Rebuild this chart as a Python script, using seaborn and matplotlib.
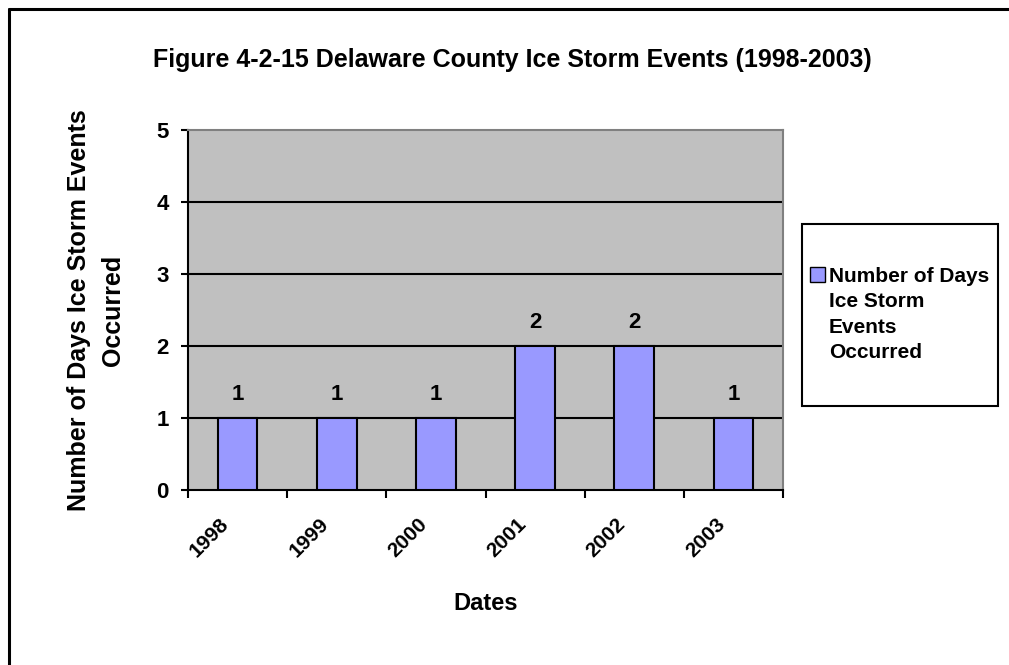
import matplotlib
matplotlib.use("Agg")
import matplotlib.pyplot as plt
import matplotlib.transforms as mtransforms
import seaborn as sns
import pandas as pd
from matplotlib.lines import Line2D
from matplotlib.patches import Rectangle, Patch

years = ["1998", "1999", "2000", "2001", "2002", "2003"]
days = [1, 1, 1, 2, 2, 1]
series_lines = ["Number of Days", "Ice Storm", "Events", "Occurred"]
title = "Figure 4-2-15 Delaware County Ice Storm Events (1998-2003)"
y_label = "Number of Days Ice Storm Events\nOccurred"
x_label = "Dates"

sns.set_style("white")
plt.rcParams['font.family'] = ['Liberation Sans', 'DejaVu Sans']
plt.rcParams['font.weight'] = 'bold'
plt.rcParams['text.color'] = 'black'
plt.rcParams['axes.labelcolor'] = 'black'
plt.rcParams['xtick.color'] = 'black'
plt.rcParams['ytick.color'] = 'black'

df = pd.DataFrame({"year": years, "days": days})

fig = plt.figure(figsize=(10.09, 6.65), dpi=100)
ax = fig.add_axes([188/1009, 1-490/665, (783-188)/1009, 360/665])
ax.set_facecolor("#C0C0C0")

sns.barplot(data=df, x="year", y="days", color="#9999FF", edgecolor="black",
            linewidth=1.5, width=0.4, saturation=1, ax=ax, zorder=3)

ax.set_ylim(0, 5)
ax.set_xlim(-0.5, len(years) - 0.5)
ax.set_yticks([0, 1, 2, 3, 4, 5])
for y in [1, 2, 3, 4]:
    ax.axhline(y, color="black", lw=1.5, zorder=2)

for c in ax.containers:
    ax.bar_label(c, labels=[str(v) for v in days], padding=9, fontsize=16,
                 fontweight="bold", color="black")

for s in ["left", "bottom"]:
    ax.spines[s].set_color("black")
    ax.spines[s].set_linewidth(1.5)
for s in ["top", "right"]:
    ax.spines[s].set_color("#808080")
    ax.spines[s].set_linewidth(1.5)

# x ticks at category boundaries, labels at category centres
ax.set_xticks([i - 0.5 for i in range(len(years) + 1)], minor=False)
ax.set_xticklabels([])
ax.set_xticks(range(len(years)), minor=True)
ax.set_xticklabels(years, minor=True, rotation=45, ha="center", va="center",
                   rotation_mode="anchor", fontsize=15, fontweight="bold")
ax.tick_params(axis="x", which="major", direction="out", length=6, width=1.5, color="black", bottom=True)
ax.tick_params(axis="x", which="minor", length=0, pad=34)
ax.tick_params(axis="y", direction="out", length=5, width=1.5, color="black", left=True,
               labelsize=16, pad=9)
for lbl in ax.get_yticklabels():
    lbl.set_fontweight("bold")
offset = mtransforms.ScaledTranslation(-28/100, 0, fig.dpi_scale_trans)
for t in ax.xaxis.get_minor_ticks():
    t.label1.set_transform(t.label1.get_transform() + offset)

ax.set_xlabel(x_label, fontsize=17, fontweight="bold", va="center")
ax.xaxis.set_label_coords(0.5, -(603-490)/360)
ax.set_ylabel(y_label, fontsize=18, fontweight="bold", va="center", linespacing=1.5)
ax.yaxis.set_label_coords(-(188-96)/595, 0.5)

fig.text(512/1009, 1-60/665, title, ha="center", va="center", fontsize=18, fontweight="bold")

# legend
rect = Rectangle((802/1009, 1-406/665), (998-802)/1009, (406-224)/665, transform=fig.transFigure,
                 facecolor="white", edgecolor="black", lw=1.5)
fig.patches.append(rect)
h = Patch(facecolor="#9999FF", edgecolor="black", lw=1)
leg = fig.legend([h], [series_lines[0]], loc="center left", bbox_to_anchor=(810/1009, 1-276/665),
                 frameon=False, prop={"weight": "bold", "size": 15}, handlelength=0.72,
                 handleheight=0.72, handletextpad=0.2, borderpad=0, borderaxespad=0)
for i, line in enumerate(series_lines[1:], start=1):
    fig.text(829/1009, 1-(276.5 + 25.3*i)/665, line, ha="left", va="center", fontsize=15,
             fontweight="bold")

# outer border (left and top)
fig.add_artist(Line2D([9/1009, 9/1009], [0, 1-9/665], transform=fig.transFigure, color="black", lw=2.2))
fig.add_artist(Line2D([9/1009, 1], [1-9/665, 1-9/665], transform=fig.transFigure, color="black", lw=2.2))

fig.savefig("out.png", dpi=100)
